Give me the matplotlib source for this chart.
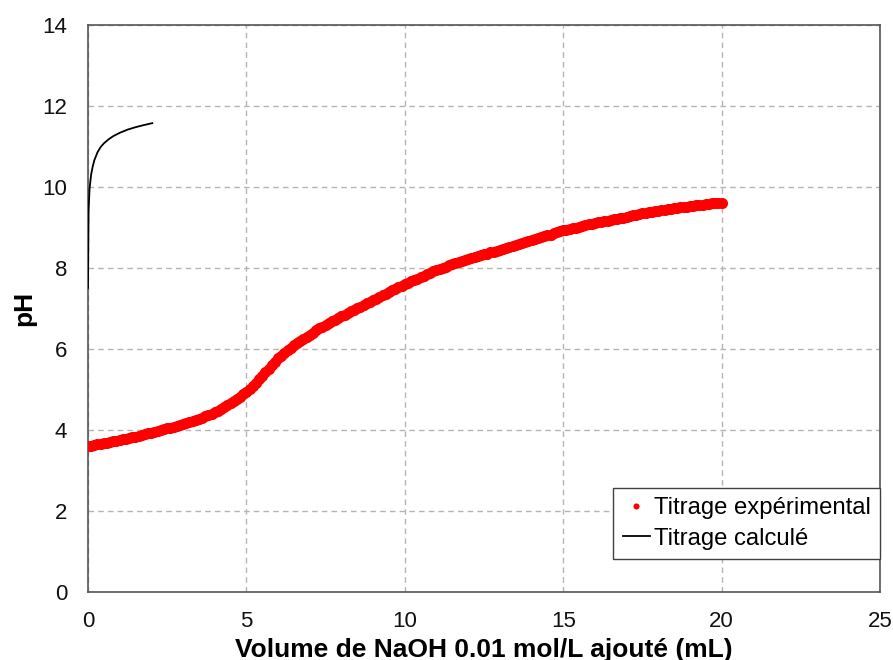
import matplotlib
matplotlib.use("Agg")
import matplotlib.pyplot as plt

# Experimental titration (mL NaOH added, pH), read every 0.1 mL
vol_exp = [
    0.0, 0.1, 0.2, 0.3, 0.4, 0.5, 0.6, 0.7, 0.8, 0.9,
    1.0, 1.1, 1.2, 1.3, 1.4, 1.5, 1.6, 1.7, 1.8, 1.9,
    2.0, 2.1, 2.2, 2.3, 2.4, 2.5, 2.6, 2.7, 2.8, 2.9,
    3.0, 3.1, 3.2, 3.3, 3.4, 3.5, 3.6, 3.7, 3.8, 3.9,
    4.0, 4.1, 4.2, 4.3, 4.4, 4.5, 4.6, 4.7, 4.8, 4.9,
    5.0, 5.1, 5.2, 5.3, 5.4, 5.5, 5.6, 5.7, 5.8, 5.9,
    6.0, 6.1, 6.2, 6.3, 6.4, 6.5, 6.6, 6.7, 6.8, 6.9,
    7.0, 7.1, 7.2, 7.3, 7.4, 7.5, 7.6, 7.7, 7.8, 7.9,
    8.0, 8.1, 8.2, 8.3, 8.4, 8.5, 8.6, 8.7, 8.8, 8.9,
    9.0, 9.1, 9.2, 9.3, 9.4, 9.5, 9.6, 9.7, 9.8, 9.9,
    10.0, 10.1, 10.2, 10.3, 10.4, 10.5, 10.6, 10.7, 10.8, 10.9,
    11.0, 11.1, 11.2, 11.3, 11.4, 11.5, 11.6, 11.7, 11.8, 11.9,
    12.0, 12.1, 12.2, 12.3, 12.4, 12.5, 12.6, 12.7, 12.8, 12.9,
    13.0, 13.1, 13.2, 13.3, 13.4, 13.5, 13.6, 13.7, 13.8, 13.9,
    14.0, 14.1, 14.2, 14.3, 14.4, 14.5, 14.6, 14.7, 14.8, 14.9,
    15.0, 15.1, 15.2, 15.3, 15.4, 15.5, 15.6, 15.7, 15.8, 15.9,
    16.0, 16.1, 16.2, 16.3, 16.4, 16.5, 16.6, 16.7, 16.8, 16.9,
    17.0, 17.1, 17.2, 17.3, 17.4, 17.5, 17.6, 17.7, 17.8, 17.9,
    18.0, 18.1, 18.2, 18.3, 18.4, 18.5, 18.6, 18.7, 18.8, 18.9,
    19.0, 19.1, 19.2, 19.3, 19.4, 19.5, 19.6, 19.7, 19.8, 19.9,
    20.0]
ph_exp = [
    3.60, 3.61, 3.62, 3.64, 3.65, 3.66, 3.68, 3.69, 3.71, 3.72,
    3.74, 3.76, 3.77, 3.79, 3.81, 3.83, 3.85, 3.87, 3.89, 3.91,
    3.93, 3.95, 3.97, 3.99, 4.01, 4.03, 4.05, 4.07, 4.09, 4.12,
    4.14, 4.16, 4.19, 4.21, 4.24, 4.27, 4.30, 4.33, 4.36, 4.39,
    4.43, 4.47, 4.52, 4.56, 4.61, 4.66, 4.71, 4.76, 4.82, 4.88,
    4.94, 5.01, 5.08, 5.16, 5.24, 5.33, 5.42, 5.51, 5.60, 5.68,
    5.76, 5.83, 5.89, 5.96, 6.02, 6.08, 6.14, 6.20, 6.25, 6.30,
    6.35, 6.40, 6.45, 6.50, 6.54, 6.59, 6.63, 6.68, 6.72, 6.76,
    6.80, 6.84, 6.88, 6.92, 6.96, 7.00, 7.04, 7.08, 7.12, 7.16,
    7.20, 7.24, 7.28, 7.32, 7.36, 7.40, 7.44, 7.48, 7.52, 7.55,
    7.59, 7.63, 7.66, 7.70, 7.73, 7.77, 7.80, 7.84, 7.87, 7.91,
    7.94, 7.97, 8.00, 8.03, 8.06, 8.09, 8.12, 8.15, 8.17, 8.20,
    8.22, 8.24, 8.27, 8.29, 8.31, 8.33, 8.35, 8.38, 8.40, 8.42,
    8.45, 8.47, 8.49, 8.52, 8.54, 8.56, 8.59, 8.61, 8.63, 8.66,
    8.68, 8.70, 8.73, 8.75, 8.78, 8.80, 8.82, 8.85, 8.87, 8.90,
    8.92, 8.94, 8.96, 8.98, 8.99, 9.01, 9.03, 9.05, 9.07, 9.08,
    9.10, 9.12, 9.13, 9.15, 9.16, 9.18, 9.20, 9.21, 9.23, 9.24,
    9.26, 9.28, 9.29, 9.31, 9.32, 9.34, 9.35, 9.37, 9.38, 9.40,
    9.41, 9.42, 9.43, 9.45, 9.46, 9.47, 9.48, 9.49, 9.50, 9.51,
    9.52, 9.53, 9.54, 9.55, 9.56, 9.57, 9.58, 9.59, 9.60, 9.60,
    9.61]

# Calculated titration
vol_calc = [0.0, 0.02, 0.05, 0.10, 0.15, 0.20, 0.30, 0.40, 0.50, 0.65,
            0.80, 1.00, 1.25, 1.50, 1.75, 2.03]
ph_calc = [7.5, 9.4, 9.95, 10.3, 10.5, 10.65, 10.85, 10.98, 11.07, 11.17,
           11.25, 11.33, 11.41, 11.47, 11.52, 11.57]

x_ticks = [0, 5, 10, 15, 20, 25]
y_ticks = [0, 2, 4, 6, 8, 10, 12, 14]

plt.rcParams['font.family'] = ['Liberation Sans', 'DejaVu Sans']

fig = plt.figure(figsize=(8.93, 6.60), dpi=100)
ax = fig.add_axes([0.0985, 0.1035, 0.887, 0.859])

ax.plot(vol_exp, ph_exp, 'o', color='#ff0000', markersize=8, markeredgewidth=0,
        label='Titrage expérimental', zorder=3)
ax.plot(vol_calc, ph_calc, '-', color='black', linewidth=1.3,
        label='Titrage calculé', zorder=4)

ax.set_xlim(0, 25)
ax.set_ylim(0, 14)
ax.set_xticks(x_ticks)
ax.set_yticks(y_ticks)
ax.tick_params(axis='x', length=0, labelsize=16, pad=14, colors='#111111')
ax.tick_params(axis='y', length=0, labelsize=16, pad=15, colors='#111111')
ax.grid(True, linestyle=(0, (4, 3)), color='#b4b4b4', linewidth=1)
ax.set_axisbelow(True)
for s in ax.spines.values():
    s.set_color('#555555')
    s.set_linewidth(1.2)

ax.set_xlabel('Volume de NaOH 0.01 mol/L ajouté (mL)', fontsize=19, fontweight='bold',
              labelpad=4)
ax.set_ylabel('pH', fontsize=19, fontweight='bold', labelpad=4)

leg = ax.legend(loc='lower right', bbox_to_anchor=(1.0, 0.057), fontsize=17.2,
                frameon=True, fancybox=False, framealpha=1, edgecolor='#404040',
                markerscale=0.55, handlelength=1.15, handletextpad=0.15,
                borderpad=0.4, labelspacing=0.36, borderaxespad=0)
leg.get_frame().set_linewidth(1.0)

fig.savefig('out.png', dpi=100)
